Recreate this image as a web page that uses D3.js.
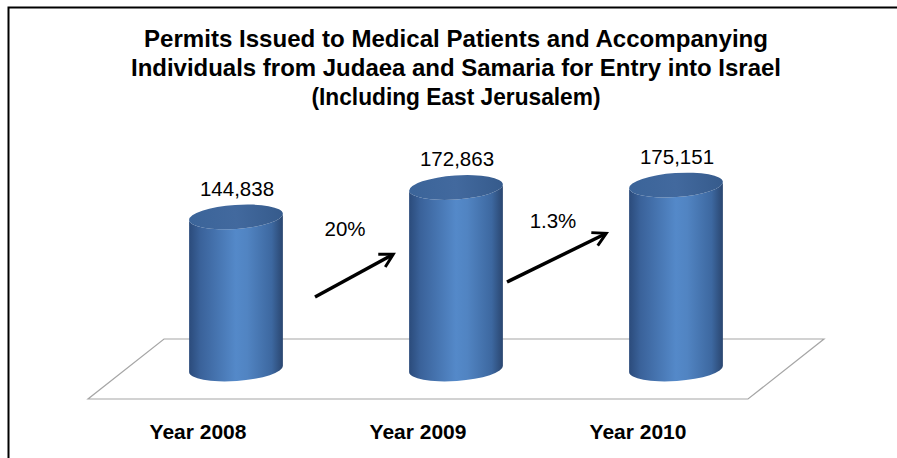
<!DOCTYPE html>
<html>
<head>
<meta charset="utf-8">
<script src="https://cdn.jsdelivr.net/npm/d3@7"></script>
<style>
  body { margin: 0; background: #fff; }
  svg { display: block; }
</style>
</head>
<body>
<svg id="chart"></svg>
<script>
let width = 897;
let height = 458;

// data
let years = ['Year 2008', 'Year 2009', 'Year 2010'];
let permits = [144838, 172863, 175151];
let growthLabels = ['20%', '1.3%'];
let titleLines = [
  'Permits Issued to Medical Patients and Accompanying',
  'Individuals from Judaea and Samaria for Entry into Israel',
  '(Including East Jerusalem)'
];

let svg = d3.select('#chart')
  .attr('width', width)
  .attr('height', height);

// chart border (runs off right/bottom)
svg.append('path')
  .attr('d', 'M8.5,470 V7.5 H910')
  .attr('fill', 'none')
  .attr('stroke', '#000')
  .attr('stroke-width', 2);

// title
svg.append('g')
  .selectAll('text')
  .data(titleLines)
  .enter()
  .append('text')
  .attr('x', 456)
  .attr('y', (d, i) => 47 + i * 29)
  .attr('text-anchor', 'middle')
  .attr('font-family', 'Liberation Sans, Arial, sans-serif')
  .attr('font-weight', 'bold')
  .attr('font-size', 24.5)
  .attr('textLength', (d, i) => [624, 650, 289][i])
  .attr('lengthAdjust', 'spacingAndGlyphs')
  .text(d => d);

// scales
let depthX = 38, depthY = 30;
let baseY = 369;

let xScale = d3.scaleBand()
  .domain(years)
  .range([126, 786]);

let yScale = d3.scaleLinear()
  .domain([0, 200000])
  .range([baseY, baseY - 210]);

// floor
let x0 = xScale.range()[0], x1 = xScale.range()[1];
svg.append('path')
  .attr('d', `M${x0 + depthX},${baseY - depthY} L${x1 + depthX},${baseY - depthY}
              L${x1 - depthX},${baseY + depthY} L${x0 - depthX},${baseY + depthY} Z`)
  .attr('fill', 'none')
  .attr('stroke', '#a6a6a6')
  .attr('stroke-width', 1.2);

// gradients
let defs = svg.append('defs');
let bodyGrad = defs.append('linearGradient')
  .attr('id', 'body')
  .attr('x1', 0).attr('x2', 1).attr('y1', 0).attr('y2', 0);
[[0, '#2b4b7b'], [0.12, '#3a629a'], [0.5, '#5489c9'], [0.62, '#5184c2'], [0.88, '#3d68a0'], [1, '#2a4670']]
  .forEach(s => bodyGrad.append('stop').attr('offset', s[0]).attr('stop-color', s[1]));

let topGrad = defs.append('linearGradient')
  .attr('id', 'top')
  .attr('x1', 0).attr('x2', 1).attr('y1', 0).attr('y2', 0);
[[0, '#3b6499'], [0.5, '#42699e'], [1, '#365b8c']]
  .forEach(s => topGrad.append('stop').attr('offset', s[0]).attr('stop-color', s[1]));

// cylinders
let rx = 47, ry = 12, tilt = -4;
let rad = tilt * Math.PI / 180;
let ex = rx * Math.cos(rad), ey = rx * Math.sin(rad);

let bars = svg.append('g')
  .selectAll('g')
  .data(permits)
  .enter()
  .append('g');

bars.append('path')
  .attr('d', (d, i) => {
    let cx = xScale(years[i]) + xScale.bandwidth() / 2;
    let yt = yScale(d), yb = baseY;
    return `M${cx - ex},${yt - ey} L${cx - ex},${yb - ey}
            A${rx},${ry} ${tilt} 0 0 ${cx + ex},${yb + ey}
            L${cx + ex},${yt + ey}
            A${rx},${ry} ${tilt} 0 1 ${cx - ex},${yt - ey} Z`;
  })
  .attr('fill', 'url(#body)');

bars.append('ellipse')
  .attr('cx', 0).attr('cy', 0)
  .attr('rx', rx).attr('ry', ry)
  .attr('transform', (d, i) => {
    let cx = xScale(years[i]) + xScale.bandwidth() / 2;
    return `translate(${cx},${yScale(d)}) rotate(${tilt})`;
  })
  .attr('fill', 'url(#top)');

// value labels
bars.append('text')
  .attr('x', (d, i) => xScale(years[i]) + xScale.bandwidth() / 2 + 1)
  .attr('y', d => yScale(d) - ry - 9)
  .attr('text-anchor', 'middle')
  .attr('font-family', 'Liberation Sans, Arial, sans-serif')
  .attr('font-size', 20.5)
  .text(d => d3.format(',')(d));

// category labels on the front edge of the floor
svg.append('g')
  .selectAll('text')
  .data(years)
  .enter()
  .append('text')
  .attr('x', d => xScale(d) + xScale.bandwidth() / 2 - depthX)
  .attr('y', 439)
  .attr('text-anchor', 'middle')
  .attr('font-family', 'Liberation Sans, Arial, sans-serif')
  .attr('font-weight', 'bold')
  .attr('font-size', 21)
  .text(d => d);

// growth arrows between bars
defs.append('marker')
  .attr('id', 'head')
  .attr('viewBox', '0 0 12 12')
  .attr('refX', 9).attr('refY', 6)
  .attr('markerWidth', 5).attr('markerHeight', 5)
  .attr('orient', 'auto')
  .append('path')
  .attr('d', 'M1,1 L10,6 L1,11')
  .attr('fill', 'none')
  .attr('stroke', '#000')
  .attr('stroke-width', 2)
  .attr('stroke-linejoin', 'miter');

// arrow placement relative to the gap between bars
let arrowFrom = [[-31, 297], [-59, 282]];
let arrowTo = [[46, 255], [39, 234]];
let labelPos = [[-1, 236], [-13, 228]];

let mids = d3.range(years.length - 1).map(i =>
  (xScale(years[i]) + xScale(years[i + 1])) / 2 + xScale.bandwidth() / 2);

let arrows = svg.append('g')
  .selectAll('g')
  .data(growthLabels)
  .enter()
  .append('g');

arrows.append('line')
  .attr('x1', (d, i) => mids[i] + arrowFrom[i][0])
  .attr('y1', (d, i) => arrowFrom[i][1])
  .attr('x2', (d, i) => mids[i] + arrowTo[i][0])
  .attr('y2', (d, i) => arrowTo[i][1])
  .attr('stroke', '#000')
  .attr('stroke-width', 3.5)
  .attr('marker-end', 'url(#head)');

arrows.append('text')
  .attr('x', (d, i) => mids[i] + labelPos[i][0])
  .attr('y', (d, i) => labelPos[i][1])
  .attr('text-anchor', 'middle')
  .attr('font-family', 'Liberation Sans, Arial, sans-serif')
  .attr('font-size', 20.5)
  .text(d => d);
</script>
</body>
</html>
